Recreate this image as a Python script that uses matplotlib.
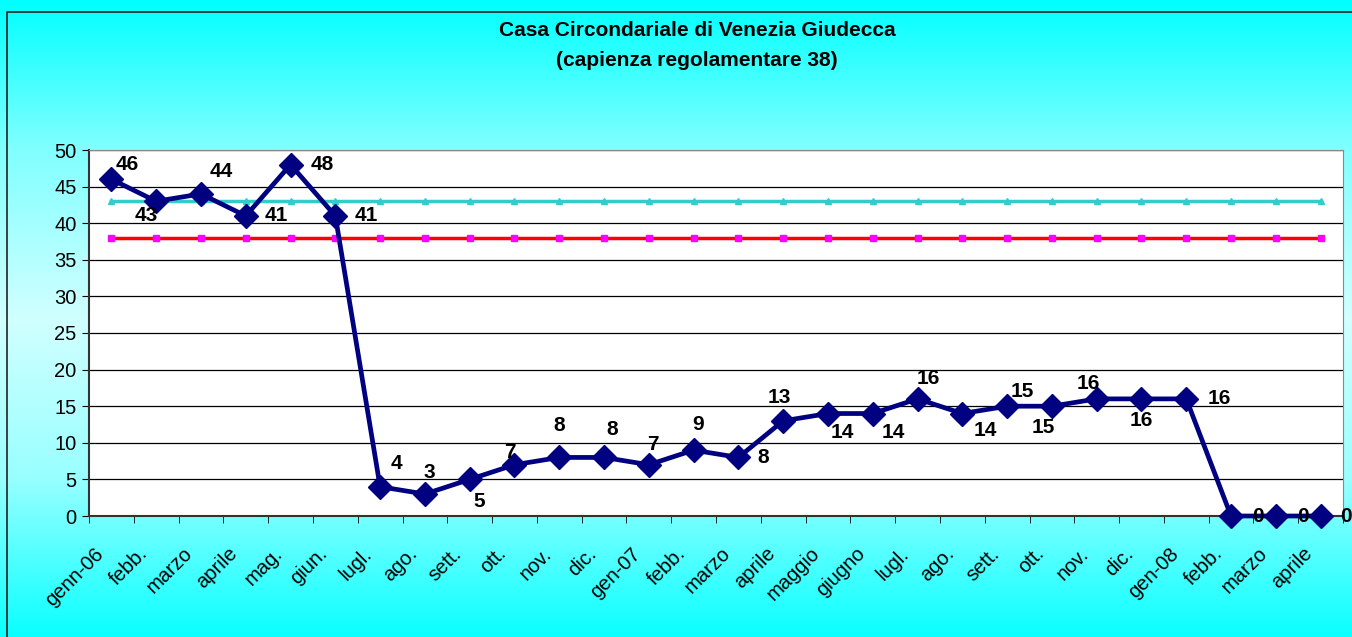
"""
Casa Circondariale di Venezia Giudecca - presenze mensili vs capienza.
Saves out.png.
"""
import numpy as np
import matplotlib
matplotlib.use("Agg")
import matplotlib.pyplot as plt
from matplotlib.transforms import ScaledTranslation

plt.rcParams["font.family"] = ["Liberation Sans", "DejaVu Sans"]

# --- Data -------------------------------------------------------------------
months = ["genn-06", "febb.", "marzo", "aprile", "mag.", "giun.", "lugl.", "ago.",
          "sett.", "ott.", "nov.", "dic.", "gen-07", "febb.", "marzo", "aprile",
          "maggio", "giugno", "lugl.", "ago.", "sett.", "ott.", "nov.", "dic.",
          "gen-08", "febb.", "marzo", "aprile"]
presenze = [46, 43, 44, 41, 48, 41, 4, 3, 5, 7, 8, 8, 7, 9, 8, 13,
            14, 14, 16, 14, 15, 15, 16, 16, 16, 0, 0, 0]
capienza_reg = 38
capienza_toll = 43

# label offsets in pixels (dx, dy up) - mimic the Excel placement
lab_off = [(16, 15), (-10, -14), (20, 22), (31, 0), (32, 0), (31, 0), (16, 23), (4, 22),
           (10, -22), (-5, 12), (0, 32), (8, 28), (4, 20), (4, 26), (25, 0), (-4, 23),
           (14, -19), (21, -19), (11, 20), (23, -17), (15, 15), (-9, -21), (-8, 15), (0, -22),
           (33, 0), (27, 0), (27, 0), (25, 0)]

x = np.arange(len(months))
W, H = 1352, 637

fig = plt.figure(figsize=(13.52, 6.37), dpi=100)

# background gradient (cyan -> light -> cyan)
bg = fig.add_axes([0, 0, 1, 1], zorder=-10)
t = np.linspace(0, 1, 400)
light = np.interp(t, [0, 0.23, 0.5, 0.75, 1.0], [0.0, 0.5, 0.82, 0.6, 0.04])
img = np.ones((400, 1, 3))
img[:, 0, 0] = light
bg.imshow(img, aspect="auto", extent=[0, 1, 0, 1])
bg.set_xlim(0, 1); bg.set_ylim(0, 1); bg.axis("off")
bg.plot([7 / W, 7 / W, 1], [0, 1 - 12 / H, 1 - 12 / H], color="#222222", lw=1.2)

ax = fig.add_axes([89 / W, 1 - 516 / H, (1343 - 89) / W, (516 - 150) / H])
ax.set_facecolor("white")

ax.plot(x, [capienza_toll] * len(x), color="#33CCCC", lw=2.5, marker="^", ms=4,
        mfc="#33CCCC", mec="#33CCCC", zorder=2)
ax.plot(x, [capienza_reg] * len(x), color="#FF0000", lw=2.5, marker="s", ms=4,
        mfc="#FF00FF", mec="#FF00FF", zorder=2)
ax.plot(x, presenze, color="#000080", lw=3.4, marker="D", ms=12,
        mfc="#000080", mec="#000080", zorder=3, clip_on=False)

for xi, v, (dx, dy) in zip(x, presenze, lab_off):
    ax.annotate(str(v), (xi, v), xytext=(dx, dy), textcoords="offset pixels",
                ha="center", va="center", fontsize=15, fontweight="bold", zorder=4,
                annotation_clip=False)

ax.set_xlim(-0.5, len(x) - 0.5)
ax.set_ylim(0, 50)
ax.set_yticks(range(0, 51, 5))
ax.yaxis.grid(True, color="black", lw=0.9)
ax.set_axisbelow(True)
ax.tick_params(axis="y", labelsize=14.5, length=5, direction="out", pad=4)

ax.set_xticks(x)
ax.set_xticklabels(months, rotation=45, ha="right", va="center",
                   rotation_mode="anchor", fontsize=14.5)
ax.tick_params(axis="x", length=0, pad=25)
shift = ScaledTranslation(-11 / 100, 0, fig.dpi_scale_trans)
for lbl in ax.get_xticklabels():
    lbl.set_transform(lbl.get_transform() + shift)
ax.set_xticks(np.arange(-0.5, len(x), 1), minor=True)
ax.tick_params(axis="x", which="minor", length=5, direction="out")

for s in ["top", "right"]:
    ax.spines[s].set_color("#888888")
for s in ["left", "bottom"]:
    ax.spines[s].set_color("#333333")
    ax.spines[s].set_linewidth(1.5)

fig.text(697 / W, 1 - 31 / H, "Casa Circondariale di Venezia Giudecca", ha="center",
         va="center", fontsize=15, fontweight="bold")
fig.text(697 / W, 1 - 60 / H, "(capienza regolamentare 38)", ha="center",
         va="center", fontsize=15, fontweight="bold")

fig.savefig("out.png", dpi=100)
